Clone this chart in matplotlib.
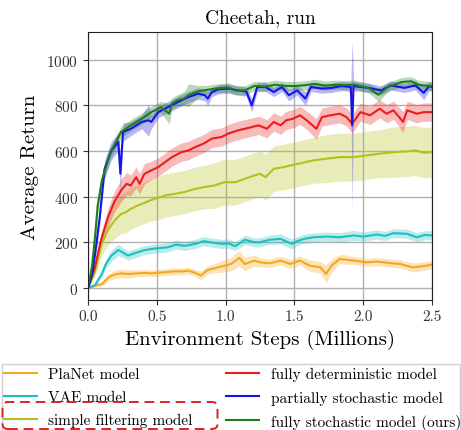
import matplotlib
matplotlib.use('Agg')
import matplotlib.pyplot as plt
from matplotlib.patches import FancyBboxPatch, Rectangle

# values (x in millions of steps)
planet_x = [0, 0.05, 0.1, 0.15, 0.19, 0.24, 0.29, 0.36, 0.41, 0.46,
            0.53, 0.58, 0.63, 0.68, 0.73, 0.78, 0.82, 0.87, 0.92, 0.97,
            1.04, 1.10, 1.14, 1.21, 1.25, 1.32, 1.40, 1.47, 1.54, 1.61,
            1.69, 1.73, 1.77, 1.83, 1.88, 1.93, 2.03, 2.10, 2.15, 2.21,
            2.27, 2.36, 2.43, 2.5]
planet_y = [0, 10, 17, 47, 58, 64, 61, 64, 66, 64,
            68, 70, 73, 72, 76, 66, 54, 79, 86, 94,
            105, 132, 105, 120, 112, 108, 120, 105, 120, 98,
            90, 61, 98, 127, 124, 120, 112, 116, 112, 108,
            105, 90, 95, 102]
planet_sd = [0, 5, 8, 15, 18, 20, 18, 15, 15, 15,
             15, 15, 15, 15, 15, 15, 20, 18, 20, 25,
             30, 35, 30, 25, 20, 18, 20, 20, 20, 25,
             25, 40, 30, 20, 20, 18, 18, 18, 18, 18,
             18, 20, 20, 18]

vae_x = [0, 0.05, 0.1, 0.13, 0.17, 0.22, 0.25, 0.29, 0.34, 0.40,
         0.46, 0.51, 0.58, 0.64, 0.70, 0.78, 0.84, 0.90, 0.97, 1.02,
         1.07, 1.14, 1.21, 1.25, 1.32, 1.40, 1.48, 1.52, 1.57, 1.64,
         1.73, 1.83, 1.93, 2.0, 2.1, 2.16, 2.22, 2.32, 2.39, 2.45,
         2.5]
vae_y = [0, 12, 61, 105, 142, 166, 156, 142, 152, 164,
         171, 174, 178, 190, 184, 193, 205, 199, 193, 195,
         183, 211, 200, 200, 211, 215, 193, 205, 215, 222,
         225, 222, 230, 225, 234, 228, 240, 237, 222, 232,
         230]
vae_sd = [0, 5, 15, 20, 25, 25, 22, 20, 20, 20,
          20, 20, 20, 20, 20, 20, 20, 20, 20, 20,
          20, 20, 20, 20, 20, 22, 22, 20, 20, 20,
          20, 20, 22, 20, 20, 20, 20, 20, 20, 20,
          20]

filt_x = [0, 0.05, 0.1, 0.15, 0.2, 0.24, 0.27, 0.31, 0.35, 0.39,
          0.44, 0.48, 0.52, 0.56, 0.63, 0.70, 0.78, 0.85, 0.92, 0.99,
          1.07, 1.14, 1.21, 1.25, 1.29, 1.35, 1.42, 1.49, 1.56, 1.63,
          1.73, 1.83, 1.93, 2.02, 2.12, 2.22, 2.32, 2.38, 2.44, 2.5]
filt_y = [0, 70, 195, 260, 300, 324, 330, 346, 358, 368,
          380, 390, 396, 405, 412, 420, 434, 442, 449, 463,
          463, 478, 493, 500, 485, 522, 529, 539, 548, 558,
          566, 573, 573, 580, 588, 595, 598, 602, 592, 595]
filt_sd = [0, 20, 50, 70, 80, 85, 90, 90, 90, 90,
           90, 95, 95, 95, 95, 95, 95, 95, 100, 100,
           100, 100, 100, 100, 100, 100, 100, 100, 100, 100,
           105, 105, 105, 105, 105, 110, 110, 110, 110, 110]

det_x = [0, 0.05, 0.09, 0.145, 0.19, 0.24, 0.28, 0.31, 0.35, 0.375,
         0.41, 0.46, 0.51, 0.56, 0.61, 0.68, 0.73, 0.78, 0.84, 0.90,
         0.97, 1.02, 1.09, 1.16, 1.24, 1.30, 1.35, 1.40, 1.44, 1.49,
         1.54, 1.59, 1.66, 1.70, 1.76, 1.83, 1.88, 1.92, 1.98, 2.05,
         2.12, 2.17, 2.22, 2.29, 2.32, 2.39, 2.44, 2.5]
det_y = [0, 90, 200, 310, 376, 427, 456, 449, 485, 456,
         500, 515, 529, 551, 573, 595, 602, 617, 632, 654,
         661, 676, 690, 700, 712, 697, 727, 712, 734, 741,
         756, 734, 697, 748, 756, 763, 748, 719, 770, 756,
         785, 763, 778, 727, 778, 763, 770, 770]
det_sd = [0, 15, 30, 40, 45, 50, 50, 45, 45, 45,
          45, 40, 40, 40, 40, 40, 40, 40, 40, 40,
          40, 40, 40, 40, 40, 40, 40, 40, 40, 40,
          40, 40, 45, 40, 40, 40, 40, 40, 40, 40,
          40, 40, 40, 45, 40, 40, 40, 40]

part_x = [0, 0.03, 0.06, 0.085, 0.12, 0.17, 0.22, 0.235, 0.254, 0.31,
          0.39, 0.44, 0.46, 0.51, 0.58, 0.63, 0.68, 0.73, 0.80, 0.85,
          0.87, 0.90, 0.95, 1.02, 1.09, 1.15, 1.19, 1.23, 1.29, 1.35,
          1.41, 1.46, 1.52, 1.58, 1.62, 1.70, 1.77, 1.84, 1.91, 1.92,
          1.93, 2.04, 2.13, 2.20, 2.30, 2.38, 2.44, 2.48, 2.5]
part_y = [0, 60, 190, 310, 521, 602, 639, 500, 683, 697,
          727, 734, 727, 770, 792, 807, 822, 836, 851, 844,
          829, 858, 870, 873, 865, 860, 800, 880, 880, 858,
          880, 844, 865, 829, 880, 873, 876, 884, 880, 712,
          884, 876, 865, 887, 876, 887, 854, 884, 880]
part_sd = [0, 20, 30, 30, 40, 40, 40, 80, 40, 30,
           30, 70, 30, 25, 25, 25, 25, 25, 25, 25,
           30, 20, 20, 20, 20, 20, 30, 20, 20, 20,
           20, 25, 20, 30, 20, 20, 20, 20, 20, 370,
           20, 20, 20, 20, 20, 20, 30, 20, 20]

full_x = [0, 0.03, 0.05, 0.07, 0.1, 0.133, 0.16, 0.19, 0.24, 0.31,
          0.39, 0.46, 0.53, 0.59, 0.61, 0.65, 0.70, 0.73, 0.80, 0.87,
          0.95, 1.02, 1.07, 1.14, 1.21, 1.29, 1.36, 1.43, 1.50, 1.58,
          1.65, 1.72, 1.80, 1.87, 1.94, 2.04, 2.11, 2.18, 2.28, 2.35,
          2.40, 2.45, 2.5]
full_y = [0, 100, 220, 360, 470, 536, 590, 624, 683, 712,
          741, 770, 792, 763, 807, 822, 830, 844, 861, 868,
          875, 878, 865, 865, 885, 882, 890, 885, 884, 888,
          894, 886, 890, 888, 890, 875, 846, 880, 902, 905,
          890, 886, 884]
full_sd = [0, 20, 30, 30, 30, 30, 30, 25, 25, 25,
           25, 25, 25, 45, 25, 25, 30, 50, 25, 20,
           20, 20, 20, 20, 20, 20, 20, 20, 20, 20,
           20, 20, 20, 20, 20, 20, 30, 20, 20, 20,
           20, 20, 20]

labels = ['PlaNet model', 'VAE model', 'simple filtering model',
          'fully deterministic model', 'partially stochastic model',
          'fully stochastic model (ours)']
colors = ['#f4a81d', '#1fbfbf', '#b5c11a', '#ec1c1c', '#1414e6', '#1d7d1d']

series = [(planet_x, planet_y, planet_sd), (vae_x, vae_y, vae_sd),
          (filt_x, filt_y, filt_sd), (det_x, det_y, det_sd),
          (part_x, part_y, part_sd), (full_x, full_y, full_sd)]

plt.rcParams['font.family'] = 'cmr10'
plt.rcParams['mathtext.fontset'] = 'cm'
plt.rcParams['axes.formatter.use_mathtext'] = True

fig = plt.figure(figsize=(4.61, 4.31), dpi=100)
ax = fig.add_axes([0.191, 0.302, 0.746, 0.621])

for (xs, ys, sd), c, lab in zip(series, colors, labels):
    lo = [y - s for y, s in zip(ys, sd)]
    hi = [y + s for y, s in zip(ys, sd)]
    ax.fill_between(xs, lo, hi, color=c, alpha=0.3, lw=0)
    ax.plot(xs, ys, color=c, lw=1.5, label=lab)

ax.set_xlim(0, 2.5)
ax.set_ylim(-52, 1120)
ax.set_xticks([0.0, 0.5, 1.0, 1.5, 2.0, 2.5])
ax.set_xticklabels(['0.0', '0.5', '1.0', '1.5', '2.0', '2.5'])
ax.set_yticks([0, 200, 400, 600, 800, 1000])
ax.grid(True, color='#b0b0b0', lw=1)
ax.set_axisbelow(True)
ax.tick_params(labelsize=11, colors='#333333', length=3.5)
for sp in ax.spines.values():
    sp.set_color('#222222')

ax.set_title('Cheetah, run', fontsize=14, pad=7)
ax.set_xlabel('Environment Steps (Millions)', fontsize=15, labelpad=4)
ax.set_ylabel('Average Return', fontsize=15, labelpad=5)

# legend frame drawn by hand so it spans the full width
frame = Rectangle((1.5 / 461, -0.01), 458 / 461, 70 / 431, transform=fig.transFigure,
                  fill=True, facecolor='white', edgecolor='#cfcfcf', lw=1)
fig.add_artist(frame)

handles, labs = ax.get_legend_handles_labels()
fig.legend(handles, labs, loc='upper left', bbox_to_anchor=(4 / 461, 63 / 431),
           ncol=2, fontsize=11, frameon=False, handlelength=2.15,
           handletextpad=0.75, columnspacing=2.2, borderpad=0, borderaxespad=0,
           labelspacing=0.6)

# red dashed highlight around the third legend entry
box = FancyBboxPatch((2.5 / 461, 1 / 431), 215 / 461, 27 / 431,
                     boxstyle='round,pad=0,rounding_size=0.012',
                     transform=fig.transFigure, fill=False,
                     edgecolor='#e02020', lw=1.4, ls=(0, (5, 3)), zorder=20)
fig.add_artist(box)

fig.savefig('out.png', dpi=100)
